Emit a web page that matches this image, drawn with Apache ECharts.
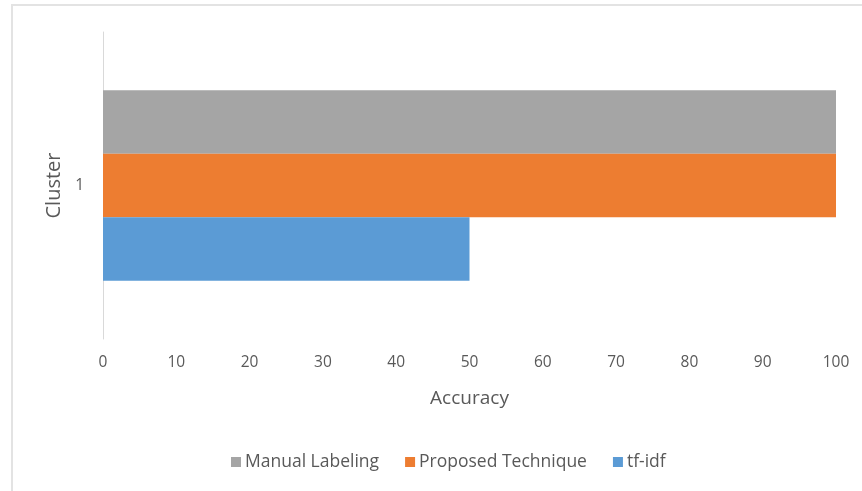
<!DOCTYPE html>
<html>
<head>
<meta charset="utf-8">
<script src="https://cdn.jsdelivr.net/npm/echarts@6/dist/echarts.min.js"></script>
<style>
  html, body { margin: 0; padding: 0; background: #fff; }
  #chart { width: 862px; height: 491px; }
</style>
</head>
<body>
<div id="chart"></div>
<script>
// Accuracy per cluster for each labeling approach
const categories = ['1'];
const seriesNames = ['Manual Labeling', 'Proposed Technique', 'tf-idf'];
const manualLabeling = [100];
const proposedTechnique = [100];
const tfIdf = [50];
const xTicks = [0, 10, 20, 30, 40, 50, 60, 70, 80, 90, 100];

const colors = ['#A5A5A5', '#ED7D31', '#5B9BD5'];
const values = [manualLabeling, proposedTechnique, tfIdf];
const textColor = '#595959';
const fontFamily = '"Open Sans", Lato, sans-serif';

const chart = echarts.init(document.getElementById('chart'), null, { renderer: 'canvas' });

chart.setOption({
  backgroundColor: '#ffffff',
  animation: false,
  graphic: [{
    type: 'rect',
    shape: { x: 12, y: 5, width: 860, height: 500 },
    style: { fill: 'none', stroke: '#e3e3e3', lineWidth: 2 },
    silent: true,
    z: -1
  }],
  grid: { left: 103, right: 26, top: 32, bottom: 152 },
  legend: {
    data: seriesNames,
    bottom: 15,
    left: 226,
    itemWidth: 10,
    itemHeight: 10,
    itemGap: 26,
    icon: 'rect',
    textStyle: { color: textColor, fontSize: 17.5, fontFamily: fontFamily, padding: [0, 0, 0, -1] }
  },
  xAxis: {
    type: 'value',
    min: xTicks[0],
    max: xTicks[xTicks.length - 1],
    interval: xTicks[1] - xTicks[0],
    name: 'Accuracy',
    nameLocation: 'middle',
    nameGap: 50,
    nameTextStyle: { color: textColor, fontSize: 19, fontFamily: fontFamily },
    axisLine: { show: false },
    axisTick: { show: false },
    splitLine: { show: false },
    axisLabel: { color: textColor, fontSize: 15.5, fontFamily: fontFamily, margin: 16 }
  },
  yAxis: {
    type: 'category',
    data: categories,
    inverse: true,
    name: 'Cluster',
    nameLocation: 'middle',
    nameGap: 36,
    nameTextStyle: { color: textColor, fontSize: 20, fontFamily: fontFamily },
    axisLine: { show: true, lineStyle: { color: '#d9d9d9', width: 1 } },
    axisTick: { show: false },
    axisLabel: { color: textColor, fontSize: 15.5, fontFamily: fontFamily, margin: 19 }
  },
  series: seriesNames.map((name, i) => ({
    name: name,
    type: 'bar',
    data: values[i],
    barGap: '0%',
    barCategoryGap: '38%',
    itemStyle: { color: colors[i] }
  }))
});
</script>
</body>
</html>
